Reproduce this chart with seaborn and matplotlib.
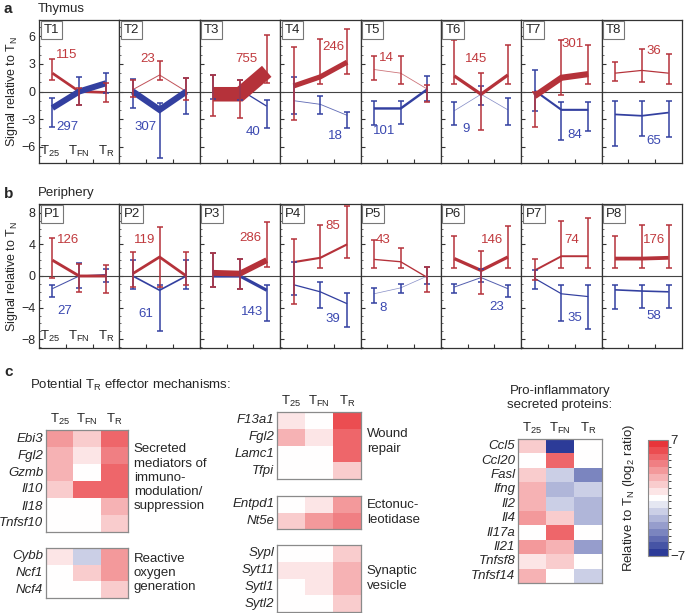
import numpy as np
import pandas as pd
import matplotlib
matplotlib.use("Agg")
import matplotlib.pyplot as plt
import seaborn as sns
from matplotlib.colors import LinearSegmentedColormap, ListedColormap, BoundaryNorm
from matplotlib.cm import ScalarMappable
from matplotlib.ticker import MultipleLocator
from matplotlib.transforms import blended_transform_factory

# ---- panel a: thymus (values per panel: T25, TFN, TR) ----
thy_names = ["T1", "T2", "T3", "T4", "T5", "T6", "T7", "T8"]
thy_red_n = [115, 23, 755, 246, 14, 145, 301, 36]
thy_blue_n = [297, 307, 40, 18, 101, 9, 84, 65]
thy_red_val = [[2.0, 0.0, -0.1], [0.2, 1.8, 0.0], [-0.3, -0.3, 2.2], [0.6, 1.6, 3.2],
               [2.4, 2.0, 0.25], [1.7, -0.3, 1.8], [-0.5, 1.5, 1.9], [2.0, 2.3, 2.0]]
thy_red_hi = [[3.5, 0.4, 0.9], [1.3, 3.3, 1.5], [1.8, 1.3, 6.2], [4.9, 5.7, 6.8],
              [3.9, 3.9, 0.7], [5.6, 2.0, 5.1], [0.0, 5.6, 5.1], [3.2, 4.6, 4.1]]
thy_red_lo = [[1.3, -1.5, -1.1], [-0.6, 1.3, -0.9], [-2.7, -2.9, 0.9], [-3.1, 0.8, 1.9],
              [1.3, 0.8, -1.1], [0.8, -4.2, 0.8], [-3.9, -0.4, 0.8], [1.1, 1.0, 0.8]]
thy_blue_val = [[-1.8, 0.0, 0.9], [0.0, -2.0, 0.0], [0.3, 0.2, -1.6], [-1.0, -1.4, -2.6],
                [-1.85, -1.85, 0.25], [-2.1, -0.3, -2.0], [0.1, -2.0, -2.0], [-2.5, -2.65, -2.3]]
thy_blue_hi = [[-0.7, 1.6, 2.0], [1.4, -1.3, 1.5], [1.8, 1.3, -0.9], [1.6, -0.5, -2.2],
               [-1.0, -1.0, 1.7], [-1.1, 0.6, -0.7], [2.3, -1.1, -1.1], [-1.0, -1.0, -1.0]]
thy_blue_lo = [[-3.9, -1.5, -0.2], [-1.8, -7.3, -2.5], [-0.8, -0.9, -4.0], [-2.4, -2.5, -4.0],
               [-3.7, -3.5, -1.0], [-3.6, -1.5, -3.6], [-2.1, -5.3, -4.3], [-5.9, -4.8, -5.0]]

# ---- panel b: periphery ----
per_names = ["P1", "P2", "P3", "P4", "P5", "P6", "P7", "P8"]
per_red_n = [126, 119, 286, 85, 43, 146, 74, 176]
per_blue_n = [27, 61, 143, 39, 8, 23, 35, 58]
per_red_val = [[2.0, 0.0, 0.0], [0.3, 2.4, 0.0], [0.4, 0.3, 2.0], [1.75, 2.3, 4.0],
               [2.1, 1.8, -0.2], [2.2, 0.7, 2.4], [0.7, 2.5, 2.5], [2.2, 2.2, 2.3]]
per_red_hi = [[4.8, 1.5, 1.4], [3.0, 6.2, 3.0], [2.9, 2.2, 6.8], [4.7, 6.5, 8.9],
              [4.6, 3.5, 1.1], [5.0, 3.1, 6.3], [2.2, 7.0, 7.3], [5.0, 6.5, 6.5]]
per_red_lo = [[-0.2, -2.0, -2.2], [-1.4, -1.4, -1.2], [-1.4, -1.7, 1.1], [-3.6, 1.0, 2.3],
              [1.0, 1.0, -2.0], [1.0, -2.3, 1.0], [-0.5, 1.0, 1.0], [1.0, 1.0, 1.0]]
per_blue_val = [[-1.6, 0.0, 0.2], [0.0, -1.8, 0.0], [0.0, 0.0, -1.8], [-1.1, -2.0, -3.5],
                [-2.25, -1.5, 0.0], [-1.4, -0.2, -1.6], [-0.3, -2.25, -2.6], [-1.75, -1.9, -2.0]]
per_blue_hi = [[-1.2, 1.6, 0.9], [2.0, -1.1, 2.0], [2.9, 2.2, -1.1], [1.8, -0.7, -2.2],
               [-1.5, -1.0, 1.1], [-1.0, 0.9, -1.1], [0.8, -1.1, -1.1], [-1.1, -1.2, -1.1]]
per_blue_lo = [[-2.7, -1.5, -0.8], [-1.7, -6.9, -1.6], [-1.4, -1.7, -5.7], [-2.4, -4.0, -6.4],
               [-3.4, -2.2, -1.0], [-2.2, -0.8, -2.7], [-1.6, -5.7, -6.7], [-4.2, -4.0, -4.0]]

# ---- panel c: heatmaps (log2 ratio relative to TN) ----
stage_cols = ["T$_{25}$", "T$_{FN}$", "T$_{R}$"]
sec_genes = ["Ebi3", "Fgl2", "Gzmb", "Il10", "Il18", "Tnfsf10"]
sec_vals = [[3.3, 1.4, 5.0], [2.5, 0.8, 4.3], [2.8, 0.1, 5.0],
            [1.7, 4.8, 4.8], [0.0, 0.0, 2.3], [0.1, 0.0, 1.5]]
ros_genes = ["Cybb", "Ncf1", "Ncf4"]
ros_vals = [[0.8, -1.5, 3.3], [0.3, 1.8, 3.1], [0.2, 0.3, 1.8]]
wound_genes = ["F13a1", "Fgl2", "Lamc1", "Tfpi"]
wound_vals = [[0.8, 0.1, 5.6], [2.5, 0.8, 4.6], [0.1, 0.1, 4.6], [-0.3, -0.2, 1.3]]
ecto_genes = ["Entpd1", "Nt5e"]
ecto_vals = [[0.1, 0.5, 3.4], [1.3, 3.4, 3.9]]
syn_genes = ["Sypl", "Syt11", "Sytl1", "Sytl2"]
syn_vals = [[0.2, 0.2, 1.5], [1.0, 1.0, 2.2], [0.2, 1.0, 2.3], [0.1, 0.1, 2.0]]
infl_genes = ["Ccl5", "Ccl20", "Fasl", "Ifng", "Il2", "Il4", "Il17a", "Il21", "Tnfsf8", "Tnfsf14"]
infl_vals = [[1.8, -7.0, -0.3], [0.1, 4.6, 0.1], [1.5, -2.0, -4.0], [2.2, -2.8, -2.0],
             [2.5, -1.8, -2.5], [3.3, 1.5, -2.5], [0.1, 5.0, 0.1], [3.1, 2.5, -3.5],
             [0.8, 2.0, -0.3], [2.5, 0.2, -1.5]]

# ---- style ----
sns.set_style("ticks")
plt.rcParams["font.family"] = ["Liberation Sans", "DejaVu Sans"]
plt.rcParams["mathtext.default"] = "regular"

RED, BLUE = "#b5323a", "#3340a0"
RED_T, BLUE_T = "#c0393d", "#3a48b0"
W, H = 685, 613
FS = 9.5
NLEV = 17

fig = plt.figure(figsize=(W / 100, H / 100), dpi=100)


def px_axes(x0, y0, x1, y1):
    return fig.add_axes([x0 / W, 1 - y1 / H, (x1 - x0) / W, (y1 - y0) / H])


def fig_text(x, y, s, **kw):
    fig.text(x / W, 1 - y / H, s, **kw)


# label positions of the gene counts (data coords)
thy_red_lab = [(1.05, 4.0), (1.05, 3.5), (1.75, 3.6), (2.0, 4.8), (0.95, 3.7), (1.3, 3.5), (1.9, 5.2), (1.95, 4.4)]
thy_blue_lab = [(1.05, -3.9), (0.98, -3.9), (2.0, -4.4), (2.05, -4.9), (0.9, -4.3), (0.94, -4.1), (2.0, -4.8), (1.95, -5.4)]
per_red_lab = [(1.1, 4.6), (0.95, 4.6), (1.9, 4.8), (1.95, 6.3), (0.85, 4.5), (1.9, 4.5), (1.9, 4.5), (1.95, 4.5)]
per_blue_lab = [(0.95, -4.4), (0.98, -4.8), (1.95, -4.6), (1.95, -5.4), (0.85, -4.0), (2.1, -3.9), (2.0, -5.3), (1.95, -5.1)]


def draw_series(ax, vals, lo, hi, n, color, tcolor, lab):
    x = [0.5, 1.5, 2.5]
    df = pd.DataFrame({"x": x, "y": vals})
    lw = 0.4 + n / 75
    alpha = min(1.0, 0.45 + n / 60)
    sns.lineplot(data=df, x="x", y="y", color=color, lw=lw, alpha=alpha, ax=ax,
                 zorder=2 + n / 1000, solid_capstyle="butt", solid_joinstyle="miter")
    v = np.array(vals)
    yerr = [np.maximum(v - np.array(lo), 0), np.maximum(np.array(hi) - v, 0)]
    ax.errorbar(x, v, yerr=yerr, fmt="none", ecolor=color, elinewidth=1.1,
                capsize=2.2, capthick=1.1, zorder=4)
    ax.text(lab[0], lab[1], str(n), color=tcolor, fontsize=FS, ha="center", va="center", zorder=5)


def draw_row(top, bottom, lim, yticks, names, rv, rlo, rhi, rn, bv, blo, bhi, bn, rlab, blab):
    left, right = 39, 682
    w = (right - left) / 8
    first = None
    for i in range(8):
        ax = px_axes(left + i * w, top, left + (i + 1) * w, bottom)
        ax.set_xlim(0, 3)
        ax.set_ylim(-lim, lim)
        ax.axhline(0, color="#444444", lw=0.8, zorder=1)
        draw_series(ax, bv[i], blo[i], bhi[i], bn[i], BLUE, BLUE_T, blab[i])
        draw_series(ax, rv[i], rlo[i], rhi[i], rn[i], RED, RED_T, rlab[i])
        ax.set_xlabel("")
        ax.set_ylabel("")
        ax.set_xticks([1, 2])
        ax.set_xticklabels([])
        ax.set_yticks(yticks)
        ax.yaxis.set_minor_locator(MultipleLocator(1))
        ax.tick_params(which="major", direction="in", length=3, width=0.8, color="#333333",
                       labelsize=9, pad=2.5, right=False, top=False)
        ax.tick_params(which="minor", direction="in", length=1.5, width=0.6, color="#555555",
                       right=False, top=False)
        ax.tick_params(axis="x", which="minor", bottom=False)
        if i > 0:
            ax.set_yticklabels([])
        else:
            ax.set_yticklabels([str(t).replace("-", "\u2212") for t in yticks])
        for s in ax.spines.values():
            s.set_visible(True)
            s.set_color("#333333")
            s.set_linewidth(0.9)
        ax.annotate(names[i], xy=(0, 1), xycoords="axes fraction", xytext=(3.2, -3),
                    textcoords="offset points", ha="left", va="top", fontsize=FS, zorder=6,
                    bbox=dict(boxstyle="square,pad=0.22", fc="white", ec="#777777", lw=0.8))
        if i == 0:
            first = ax
    tr = blended_transform_factory(first.transData, first.transAxes)
    for xs, s in zip([0.42, 1.5, 2.5], stage_cols):
        first.text(xs, 0.025, s, transform=tr, ha="center", va="bottom", fontsize=FS)
    first.set_ylabel("Signal relative to T$_N$", fontsize=9, labelpad=1)


draw_row(20, 163, 7.8, [-6, -3, 0, 3, 6], thy_names,
         thy_red_val, thy_red_lo, thy_red_hi, thy_red_n,
         thy_blue_val, thy_blue_lo, thy_blue_hi, thy_blue_n, thy_red_lab, thy_blue_lab)
draw_row(204, 348, 9.1, [-8, -4, 0, 4, 8], per_names,
         per_red_val, per_red_lo, per_red_hi, per_red_n,
         per_blue_val, per_blue_lo, per_blue_hi, per_blue_n, per_red_lab, per_blue_lab)

fig_text(4, 9, "a", fontsize=11, fontweight="bold", va="center")
fig_text(38, 9, "Thymus", fontsize=FS, va="center")
fig_text(4, 194, "b", fontsize=11, fontweight="bold", va="center")
fig_text(38, 193, "Periphery", fontsize=FS, va="center")
fig_text(4, 372, "c", fontsize=11, fontweight="bold", va="center")
fig_text(130, 385, "Potential T$_R$ effector mechanisms:", fontsize=FS, ha="center", va="center")
fig_text(560, 398, "Pro-inflammatory\nsecreted proteins:", fontsize=FS, ha="center", va="center",
         linespacing=1.15)

# ---- heatmaps ----
cmap = ListedColormap(
    LinearSegmentedColormap.from_list("rb", ["#2c3b98", "#ffffff", "#e8353a"])(np.linspace(0, 1, NLEV)))


def heat(x0, y0, x1, y1, genes, vals, header, label=None, label_y=0.5):
    ax = px_axes(x0, y0, x1, y1)
    df = pd.DataFrame(vals, index=genes, columns=stage_cols)
    sns.heatmap(df, ax=ax, cmap=cmap, vmin=-7, vmax=7, cbar=False,
                xticklabels=stage_cols if header else False, yticklabels=True)
    ax.set_yticklabels(genes, rotation=0, fontstyle="italic", fontsize=FS)
    ax.tick_params(length=0, pad=2)
    if header:
        ax.xaxis.tick_top()
        ax.set_xticklabels(stage_cols, fontsize=FS, rotation=0)
    for s in ax.spines.values():
        s.set_visible(True)
        s.set_color("#8a8a8a")
        s.set_linewidth(0.9)
    if label:
        ax.text(1.07, label_y, label, transform=ax.transAxes, ha="left", va="center",
                fontsize=FS, linespacing=1.25)
    return ax


heat(46, 430, 128, 532, sec_genes, sec_vals, True,
     "Secreted\nmediators of\nimmuno-\nmodulation/\nsuppression", 0.53)
heat(46, 548, 128, 598, ros_genes, ros_vals, False, "Reactive\noxygen\ngeneration")
heat(277, 412, 361, 479, wound_genes, wound_vals, True, "Wound\nrepair", 0.56)
heat(277, 496, 361, 529, ecto_genes, ecto_vals, False, "Ectonuc-\nleotidase")
heat(277, 545, 361, 612, syn_genes, syn_vals, False, "Synaptic\nvesicle", 0.5)
heat(518, 439, 602, 583, infl_genes, infl_vals, True)

# ---- colour bar ----
cax = px_axes(648, 440, 668, 556)
norm = BoundaryNorm(np.linspace(-7, 7, NLEV + 1), cmap.N)
cb = fig.colorbar(ScalarMappable(norm=norm, cmap=cmap), cax=cax, ticks=[-7, 7])
cb.set_ticklabels(["\u22127", "7"])
cax.tick_params(length=0, labelsize=FS, pad=1.5)
cb.outline.set_edgecolor("#8a8a8a")
cb.outline.set_linewidth(0.8)
cax.yaxis.set_label_position("left")
cb.set_label("Relative to T$_N$ (log$_2$ ratio)", fontsize=FS, labelpad=8)

fig.savefig("out.png", dpi=100)
